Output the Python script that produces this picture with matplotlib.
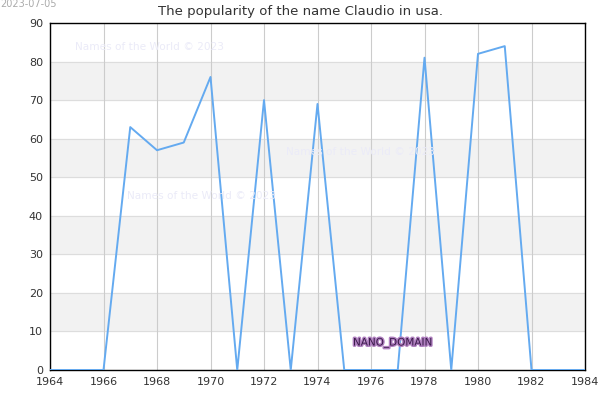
import matplotlib
matplotlib.use("Agg")
import matplotlib.pyplot as plt
import matplotlib.patheffects as pe

years = list(range(1964, 1985))
values = [0, 0, 0, 63, 57, 59, 76, 0, 70, 0, 69, 0, 0, 0, 81, 0, 82, 84, 0, 0, 0]
x_ticks = list(range(1964, 1985, 2))
y_ticks = list(range(0, 91, 10))
title = "The popularity of the name Claudio in usa."

fig = plt.figure(figsize=(6, 4), dpi=100)
ax = fig.add_axes([50/600, 30/400, 535/600, 347/400])
ax.set_xlim(1964, 1984)
ax.set_ylim(0, 90)

for lo in (10, 30, 50, 70):
    ax.axhspan(lo, lo + 10, color="#f2f2f2", zorder=0)
for y in y_ticks:
    ax.axhline(y, color="#dddddd", lw=0.8, zorder=0.5)
for x in x_ticks:
    ax.axvline(x, color="#cccccc", lw=0.8, zorder=0.5)

ax.plot(years, values, color="#64aaf0", lw=1.4, zorder=3)

ax.set_xticks(x_ticks)
ax.set_yticks(y_ticks)
ax.tick_params(axis="both", labelsize=8, colors="#333333", length=0, pad=5)
for s in ax.spines.values():
    s.set_color("black")
    s.set_linewidth(1)

wm_color = "#ebebf8"
fig.text(75/600, 1 - 47/400, "Names of the World © 2023", color=wm_color, fontsize=7.6, va="center")
fig.text(127/600, 1 - 196/400, "Names of the World © 2023", color=wm_color, fontsize=7.6, va="center")
fig.text(286/600, 1 - 152/400, "Names of the World © 2023", color=wm_color, fontsize=7.6, va="center")

fig.text(353/600, 1 - 343/400, "NANO_DOMAIN", color="#3a1a4a", fontsize=7.5, va="center",
         path_effects=[pe.withStroke(linewidth=2, foreground="#b080c0")], zorder=10)

fig.text(0.0, 1 - 4/400, "2023-07-05", color="#aaaaaa", fontsize=7, va="center", ha="left")
fig.text(0.5, 1 - 11/400, title, color="#333333", fontsize=9.5, va="center", ha="center")

fig.savefig("out.png", dpi=100)
